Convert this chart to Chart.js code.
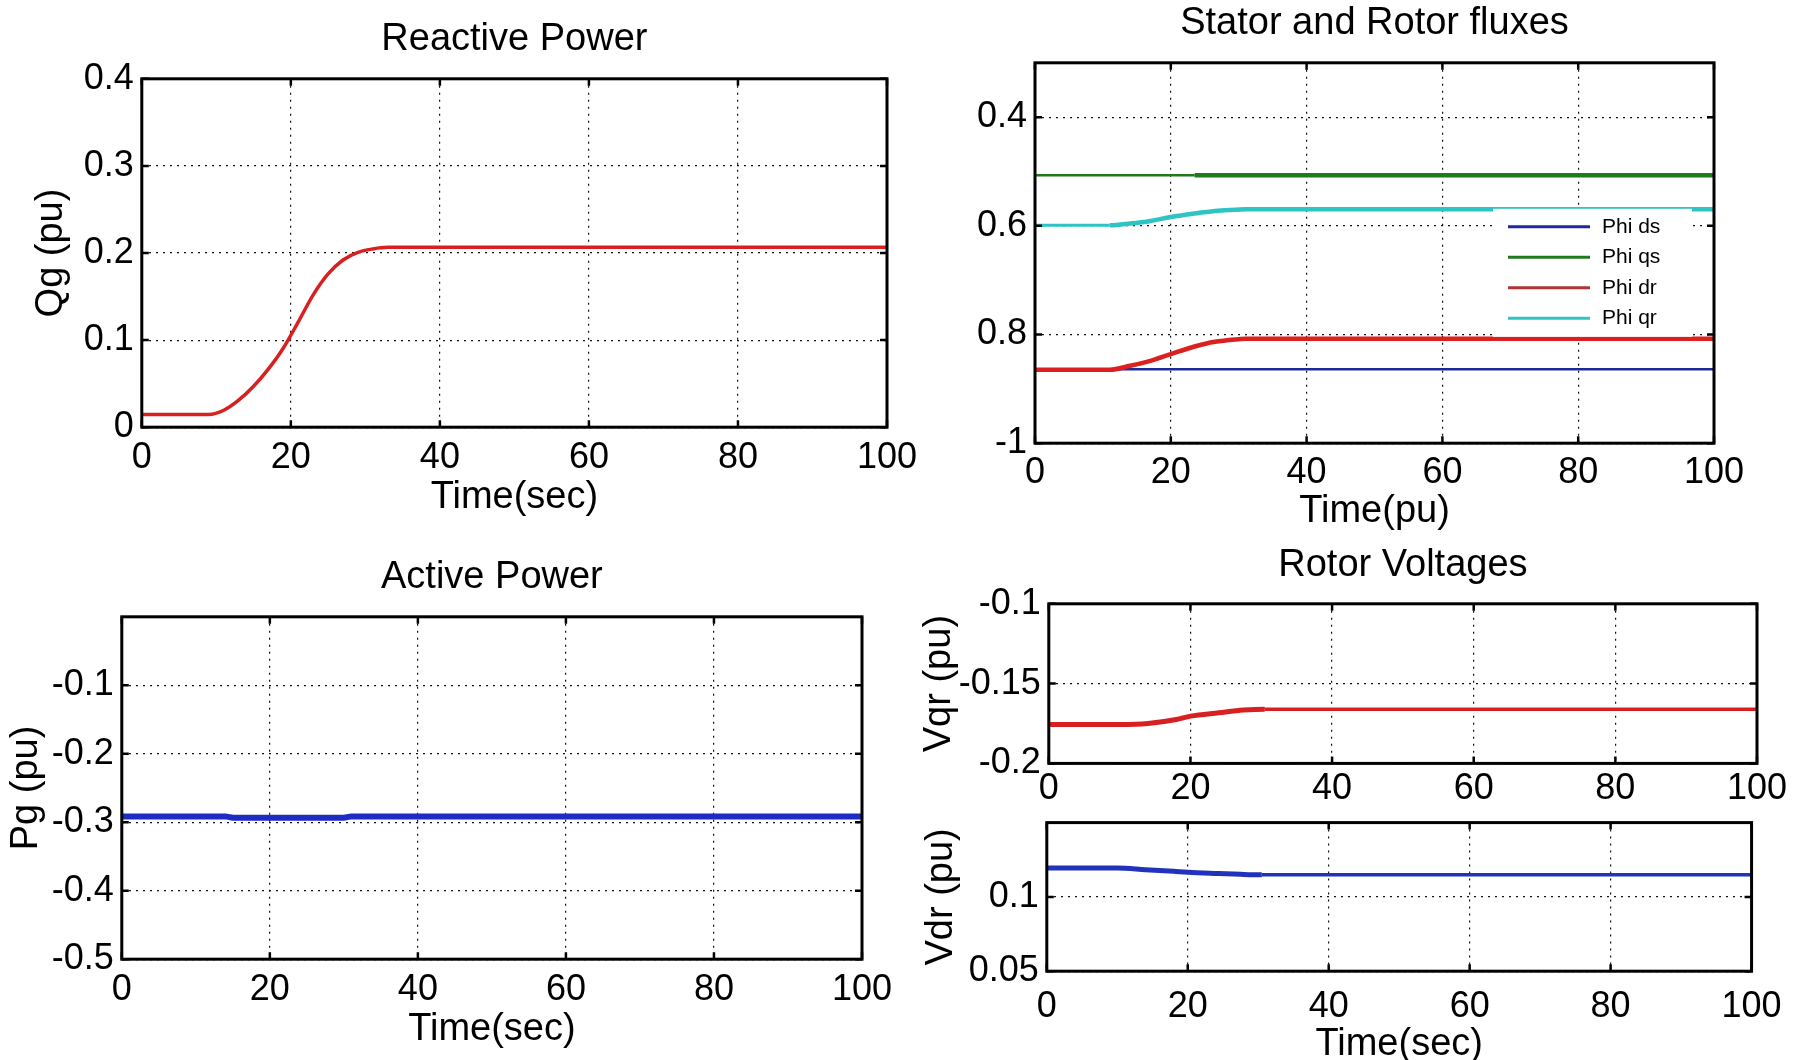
<!DOCTYPE html>
<html>
<head>
<meta charset="utf-8">
<title>DFIG responses</title>
<script src="https://cdn.jsdelivr.net/npm/chart.js@4.4.1/dist/chart.umd.min.js"></script>
<style>
  html, body { margin: 0; padding: 0; background: #fff; }
  body { width: 1794px; height: 1060px; position: relative; overflow: hidden; }
  canvas { position: absolute; }
</style>
</head>
<body>
<script>
// ---- time axis ----
const timeTicks = [0, 20, 40, 60, 80, 100];
const timeTickLabels = ['0', '20', '40', '60', '80', '100'];

// ---- reactive power Qg (pu) ----
const qgTime = [0, 9, 11, 13, 15, 17, 19, 21, 23, 25, 27, 29, 31, 33, 100];
const qgValues = [0.0146, 0.0146, 0.0195, 0.031, 0.047, 0.067, 0.091, 0.121, 0.152, 0.176, 0.192, 0.2008, 0.2047, 0.2065, 0.2065];
const qgTicks = [0, 0.1, 0.2, 0.3, 0.4];
const qgTickLabels = ['0', '0.1', '0.2', '0.3', '0.4'];

// ---- active power Pg (pu) ----
const pgTime = [0, 14, 15, 30, 31, 100];
const pgValues = [-0.2915, -0.2915, -0.2935, -0.2935, -0.2915, -0.2915];
const pgTicks = [-0.5, -0.4, -0.3, -0.2, -0.1];
const pgTickLabels = ['-0.5', '-0.4', '-0.3', '-0.2', '-0.1'];

// ---- stator and rotor fluxes ----
const fluxTime = [0, 11, 14, 17, 20, 23.5, 26.5, 29.5, 31, 100];
const phiDs = [-0.864, -0.864, -0.864, -0.864, -0.864, -0.864, -0.864, -0.864, -0.864, -0.864];
const phiQs = [-0.507, -0.507, -0.507, -0.507, -0.507, -0.507, -0.507, -0.507, -0.507, -0.507];
const phiDr = [-0.865, -0.865, -0.8576, -0.8485, -0.836, -0.822, -0.8133, -0.809, -0.808, -0.808];
const phiQr = [-0.599, -0.599, -0.5958, -0.591, -0.5836, -0.5772, -0.5727, -0.5702, -0.5697, -0.5697];
const fluxNames = ['Phi ds', 'Phi qs', 'Phi dr', 'Phi qr'];
const fluxTicks = [-1, -0.8, -0.6, -0.4];
const fluxTickLabels = ['-1', '0.8', '0.6', '0.4'];

// ---- rotor voltages ----
const vTime = [0, 10, 14, 18, 20, 24, 27.5, 30.5, 100];
const vqrValues = [-0.1756, -0.1756, -0.175, -0.1725, -0.1704, -0.1683, -0.1666, -0.166, -0.166];
const vdrValues = [0.1194, 0.1194, 0.1183, 0.1172, 0.1166, 0.1158, 0.1152, 0.1149, 0.1149];
const vqrTicks = [-0.2, -0.15, -0.1];
const vqrTickLabels = ['-0.2', '-0.15', '-0.1'];
const vdrTicks = [0.05, 0.1];
const vdrTickLabels = ['0.05', '0.1'];

// ---- styling ----
const FONT = "'Liberation Sans', Arial, Helvetica, sans-serif";
const TITLE_PX = 38;
const TICK_PX = 36;
const LH = 1.2;
const RED = '#d82020';
const BLUE = '#1f2cc4';
const GRID_DASH = [2, 5];

function pts(xs, ys) { return xs.map((x, i) => ({ x: x, y: ys[i] })); }

// black box round the axes with short inward tick marks
const axesFrame = {
  id: 'axesFrame',
  afterDatasetsDraw(chart) {
    const { ctx, chartArea: a, scales } = chart;
    ctx.save();
    ctx.strokeStyle = '#000';
    ctx.lineWidth = 2.5;
    ctx.beginPath();
    scales.x.ticks.forEach(t => {
      const px = scales.x.getPixelForValue(t.value);
      ctx.moveTo(px, a.bottom); ctx.lineTo(px, a.bottom - 7);
      ctx.moveTo(px, a.top); ctx.lineTo(px, a.top + 7);
    });
    scales.y.ticks.forEach(t => {
      const py = scales.y.getPixelForValue(t.value);
      ctx.moveTo(a.left, py); ctx.lineTo(a.left + 7, py);
      ctx.moveTo(a.right, py); ctx.lineTo(a.right - 7, py);
    });
    ctx.stroke();
    ctx.lineWidth = 3;
    ctx.strokeRect(a.left, a.top, a.right - a.left, a.bottom - a.top);
    ctx.restore();
  }
};

// legend drawn inside the axes on a white patch
const boxLegend = {
  id: 'boxLegend',
  afterDatasetsDraw(chart, args, opts) {
    const { ctx, chartArea: a } = chart;
    const x0 = a.left + opts.left, y0 = a.top + opts.top;
    ctx.save();
    ctx.fillStyle = '#fff';
    ctx.fillRect(x0, y0, opts.width, opts.height);
    ctx.font = opts.fontSize + 'px ' + FONT;
    ctx.textBaseline = 'middle';
    ctx.textAlign = 'left';
    chart.data.datasets.forEach((ds, i) => {
      const y = y0 + opts.firstRow + i * opts.rowGap;
      ctx.strokeStyle = ds.legendColor || ds.borderColor;
      ctx.lineWidth = 3;
      ctx.beginPath();
      ctx.moveTo(x0 + opts.lineStart, y);
      ctx.lineTo(x0 + opts.lineEnd, y);
      ctx.stroke();
      ctx.fillStyle = '#000';
      ctx.fillText(ds.label, x0 + opts.textStart, y);
    });
    ctx.restore();
  }
};

function makePanel(spec) {
  const tl = TITLE_PX * LH;
  const kl = TICK_PX * LH;
  const left = spec.yTitleX != null ? spec.yTitleX - tl / 2 : spec.L - 90;
  const padTop = spec.title ? 2 : 26;
  const top = spec.title ? spec.titleY - tl / 2 - padTop : spec.T - padTop;
  const xAxisH = spec.xTitle ? spec.xTitleY + tl / 2 - spec.B : (spec.xTickY - spec.B) + kl / 2 + 4;
  const padRight = 42;
  const width = spec.R + padRight - left;
  const height = spec.B + xAxisH + 2 - top;

  const cv = document.createElement('canvas');
  cv.width = Math.round(width);
  cv.height = Math.round(height);
  cv.style.left = left + 'px';
  cv.style.top = top + 'px';
  document.body.appendChild(cv);

  const yW = spec.L - left;
  const xTickPad = spec.xTickY - spec.B - kl / 2;

  return new Chart(cv, {
    type: 'line',
    data: { datasets: spec.datasets },
    plugins: spec.plugins || [axesFrame],
    options: {
      responsive: false,
      animation: false,
      events: [],
      layout: { padding: { left: 0, top: padTop, right: padRight, bottom: 2 } },
      elements: { point: { radius: 0 }, line: { cubicInterpolationMode: 'monotone', borderCapStyle: 'butt' } },
      plugins: {
        legend: { display: false },
        tooltip: { enabled: false },
        title: {
          display: !!spec.title,
          text: spec.title || '',
          fullSize: false,
          color: '#000',
          font: { family: FONT, size: TITLE_PX, weight: 'normal', lineHeight: LH },
          padding: { top: 0, bottom: spec.title ? spec.T - spec.titleY - tl / 2 : 0 }
        },
        boxLegend: spec.legend || {}
      },
      scales: {
        x: {
          type: 'linear',
          min: 0, max: 100,
          afterBuildTicks: ax => { ax.ticks = timeTicks.map(v => ({ value: v })); },
          afterFit: sc => { sc.height = xAxisH; },
          ticks: {
            color: '#000',
            font: { family: FONT, size: TICK_PX, lineHeight: LH },
            padding: xTickPad,
            maxRotation: 0,
            callback: (v, i) => timeTickLabels[i]
          },
          grid: { color: '#111', lineWidth: 1.2, drawTicks: false },
          border: { display: false, dash: GRID_DASH },
          title: {
            display: !!spec.xTitle,
            text: spec.xTitle || '',
            color: '#000',
            font: { family: FONT, size: TITLE_PX, lineHeight: LH },
            padding: { top: 0, bottom: 0 }
          }
        },
        y: {
          type: 'linear',
          min: spec.yMin, max: spec.yMax,
          afterBuildTicks: ax => { ax.ticks = spec.yTicks.map(v => ({ value: v })); },
          afterFit: sc => { sc.width = yW; },
          ticks: {
            color: '#000',
            font: { family: FONT, size: TICK_PX, lineHeight: LH },
            padding: 8,
            callback: (v, i) => spec.yTickLabels[i]
          },
          grid: { color: '#111', lineWidth: 1.2, drawTicks: false },
          border: { display: false, dash: GRID_DASH },
          title: {
            display: !!spec.yTitle,
            text: spec.yTitle || '',
            color: '#000',
            font: { family: FONT, size: TITLE_PX, lineHeight: LH },
            padding: { top: 0, bottom: 0 }
          }
        }
      }
    }
  });
}

// Reactive power
makePanel({
  L: 142, T: 79, R: 887, B: 427,
  title: 'Reactive Power', titleY: 40,
  xTitle: 'Time(sec)', xTitleY: 497, xTickY: 458,
  yTitle: 'Qg (pu)', yTitleX: 52,
  yMin: 0, yMax: 0.4, yTicks: qgTicks, yTickLabels: qgTickLabels,
  datasets: [{ label: 'Qg', data: pts(qgTime, qgValues), borderColor: RED, borderWidth: 3.5 }]
});

// Stator and rotor fluxes
makePanel({
  L: 1035, T: 63, R: 1714, B: 443,
  title: 'Stator and Rotor fluxes', titleY: 24,
  xTitle: 'Time(pu)', xTitleY: 511, xTickY: 473,
  yTitle: null, yTitleX: null,
  yMin: -1, yMax: -0.3, yTicks: fluxTicks, yTickLabels: fluxTickLabels,
  plugins: [boxLegend, axesFrame],
  legend: { left: 458, top: 146, width: 199, height: 128, lineStart: 15, lineEnd: 97, textStart: 109, firstRow: 18, rowGap: 30.5, fontSize: 21 },
  datasets: [
    { label: fluxNames[0], data: pts(fluxTime, phiDs), borderColor: '#1f2a9a', borderWidth: 2.5, order: 3 },
    { label: fluxNames[1], data: pts(fluxTime, phiQs), borderColor: '#1f7a1f', borderWidth: 2,
      segment: { borderWidth: c => (c.p0.parsed.x >= 23 ? 4.5 : 2.5) }, order: 2 },
    { label: fluxNames[2], data: pts(fluxTime, phiDr), borderColor: '#dc2020', legendColor: '#b03434', borderWidth: 4.5, order: 1 },
    { label: fluxNames[3], data: pts(fluxTime, phiQr), borderColor: '#2ec4c4', borderWidth: 3,
      segment: { borderWidth: c => (c.p0.parsed.x >= 11 ? 4.5 : 3) }, order: 0 }
  ]
});

// Active power
makePanel({
  L: 122, T: 617, R: 862, B: 959,
  title: 'Active Power', titleY: 578,
  xTitle: 'Time(sec)', xTitleY: 1029, xTickY: 990,
  yTitle: 'Pg (pu)', yTitleX: 27,
  yMin: -0.5, yMax: 0, yTicks: pgTicks, yTickLabels: pgTickLabels,
  datasets: [{ label: 'Pg', data: pts(pgTime, pgValues), borderColor: BLUE, borderWidth: 6, cubicInterpolationMode: 'default', tension: 0 }]
});

// Rotor voltage, q axis
makePanel({
  L: 1049, T: 604, R: 1757, B: 764,
  title: 'Rotor Voltages', titleY: 566,
  xTitle: null, xTickY: 790,
  yTitle: 'Vqr (pu)', yTitleX: 940,
  yMin: -0.2, yMax: -0.1, yTicks: vqrTicks, yTickLabels: vqrTickLabels,
  datasets: [{ label: 'Vqr', data: pts(vTime, vqrValues), borderColor: RED, borderWidth: 3.5,
    segment: { borderWidth: c => (c.p0.parsed.x < 30 ? 5 : 3.5) } }]
});

// Rotor voltage, d axis
makePanel({
  L: 1047, T: 819, R: 1754, B: 971,
  title: null,
  xTitle: 'Time(sec)', xTitleY: 1044, xTickY: 1007,
  yTitle: 'Vdr (pu)', yTitleX: 942,
  yMin: 0.05, yMax: 0.15, yTicks: vdrTicks, yTickLabels: vdrTickLabels,
  datasets: [{ label: 'Vdr', data: pts(vTime, vdrValues), borderColor: '#2233bb', borderWidth: 3.5,
    segment: { borderWidth: c => (c.p0.parsed.x < 30 ? 5 : 3.5) } }]
});
</script>
</body>
</html>
